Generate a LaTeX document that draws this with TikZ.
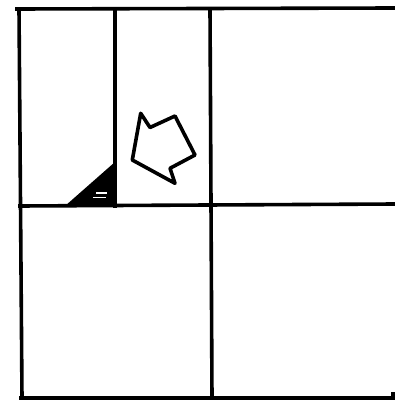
\documentclass[tikz,border=0pt]{standalone}
\begin{document}
\begin{tikzpicture}[x=1pt,y=-1pt,
  gridline/.style={line width=3.6pt,line cap=rect,black},
  outline/.style={line width=3.6pt,line join=round,black},
  whitemark/.style={line width=1.5pt,white}]
\useasboundingbox (0,0) rectangle (395,401);
% grid
\draw[gridline] (17,9) -- (395,8);
\draw[gridline] (19,9) -- (22,398);
\draw[gridline] (21,398) -- (393,398) -- (393,394);
\draw[gridline] (20,206) -- (395,204);
\draw[gridline] (210,9) -- (212,398);
\draw[gridline] (115,9) -- (115,206);
% black corner triangle
\fill[black] (65,206) -- (115,162) -- (115,206) -- cycle;
\draw[whitemark] (96,193) -- (107,193);
\draw[whitemark] (93,197.5) -- (106,197.5);
% arrow-like polygon
\draw[outline] (140.7,113.3) -- (150,127.5) -- (175,116) -- (195,155)
  -- (170,168.3) -- (175,183.3) -- (132.3,160) -- cycle;
\end{tikzpicture}
\end{document}
